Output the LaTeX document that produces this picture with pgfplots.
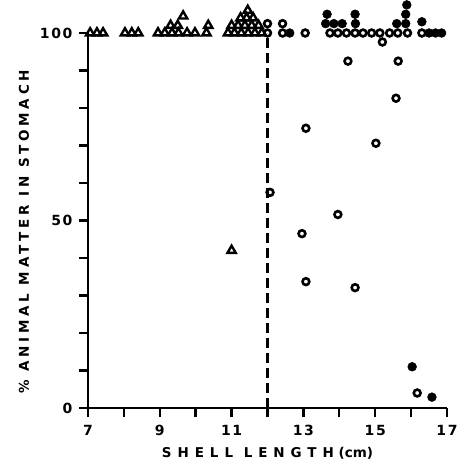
\documentclass[border=0pt]{standalone}
\usepackage{fontspec}
\setmainfont{DejaVu Sans}
\usepackage{pgfplots}
\pgfplotsset{compat=1.18}

\begin{document}
\begin{tikzpicture}
\begin{axis}[
    scale only axis,
    width=359pt, height=375pt,
    xmin=7, xmax=17, ymin=0, ymax=100,
    axis lines=left,
    axis line style={-, line width=2.4pt},
    every outer x axis line/.append style={line width=2.4pt},
    every outer y axis line/.append style={line width=2.4pt},
    clip=false,
    xtick={7,...,17},
    xticklabels={7,,9,,11,,13,,15,,17},
    ytick={0,10,...,100},
    yticklabels={0,,,,,50,,,,,100},
    tick align=outside,
    major tick length=9pt,
    every tick/.append style={line width=2.4pt, black},
    /pgf/number format/assume math mode=true,
    ticklabel style={font=\bfseries\fontsize{14}{16}\selectfont\addfontfeatures{LetterSpace=12}},
    xticklabel style={yshift=-5pt},
    yticklabel style={xshift=-3pt},
    xlabel={{\addfontfeatures{LetterSpace=44}SHELL LENGTH} (cm)},
    ylabel={\addfontfeatures{LetterSpace=28}\% ANIMAL MATTER IN STOMACH},
    label style={font=\bfseries\fontsize{13.5}{16}\selectfont},
    xlabel style={yshift=-4pt},
    ylabel style={at={(ticklabel cs:0.47)}, yshift=4pt},
]
% dashed divider at 12 cm
\addplot[black, line width=2.6pt, dash pattern=on 10pt off 5pt] coordinates {(12,0) (12,100)};

% triangles
\addplot[only marks, mark=triangle, line width=2.4pt, mark size=4.8pt,
    mark options={fill=white, line width=2.4pt}] coordinates {
(7.06,100) (7.25,100) (7.42,100)
(8.03,100) (8.22,100) (8.40,100)
(8.95,100) (9.14,100) (9.34,100) (9.52,100) (9.76,100) (9.98,100) (10.30,100)
(9.30,102) (9.50,102) (10.35,102) (9.65,104.5)
(10.90,100) (11.08,100) (11.27,100) (11.46,100) (11.65,100) (11.84,100)
(11.00,102) (11.18,102) (11.37,102) (11.56,102) (11.75,102)
(11.25,104) (11.42,104) (11.60,104)
(11.45,106)
(11.00,42)
};

% open circles
\addplot[only marks, mark=o, line width=2.6pt, mark size=3.4pt,
    mark options={fill=white, line width=2.6pt}] coordinates {
(12.00,100) (12.00,102.5) (12.42,100) (12.42,102.5)
(13.05,100)
(13.74,100) (13.96,100) (14.20,100) (14.44,100) (14.66,100) (14.90,100)
(15.13,100) (15.40,100) (15.63,100) (15.90,100) (16.30,100)
(15.20,97.6)
(14.24,92.5) (15.64,92.5) (15.58,82.6) (13.07,74.6) (15.02,70.6)
(12.07,57.5) (13.96,51.6) (12.96,46.5) (13.07,33.7) (14.44,32.1)
(16.17,4.0)
};

% filled circles
\addplot[only marks, mark=*, line width=0.5pt, mark size=4.4pt, mark options={black}] coordinates {
(12.62,100)
(13.62,102.5) (13.85,102.5) (14.08,102.5) (14.45,102.5) (15.60,102.5) (15.85,102.5)
(13.66,105) (14.44,105) (15.85,105)
(15.88,107.5)
(16.30,103) (16.50,100) (16.68,100) (16.85,100)
(16.03,11.0) (16.58,2.9)
};
\end{axis}
\pgfresetboundingbox
\path ([xshift=-88pt,yshift=-67pt]current axis.south west) rectangle ([xshift=15pt,yshift=33pt]current axis.north east);
\end{tikzpicture}
\end{document}
